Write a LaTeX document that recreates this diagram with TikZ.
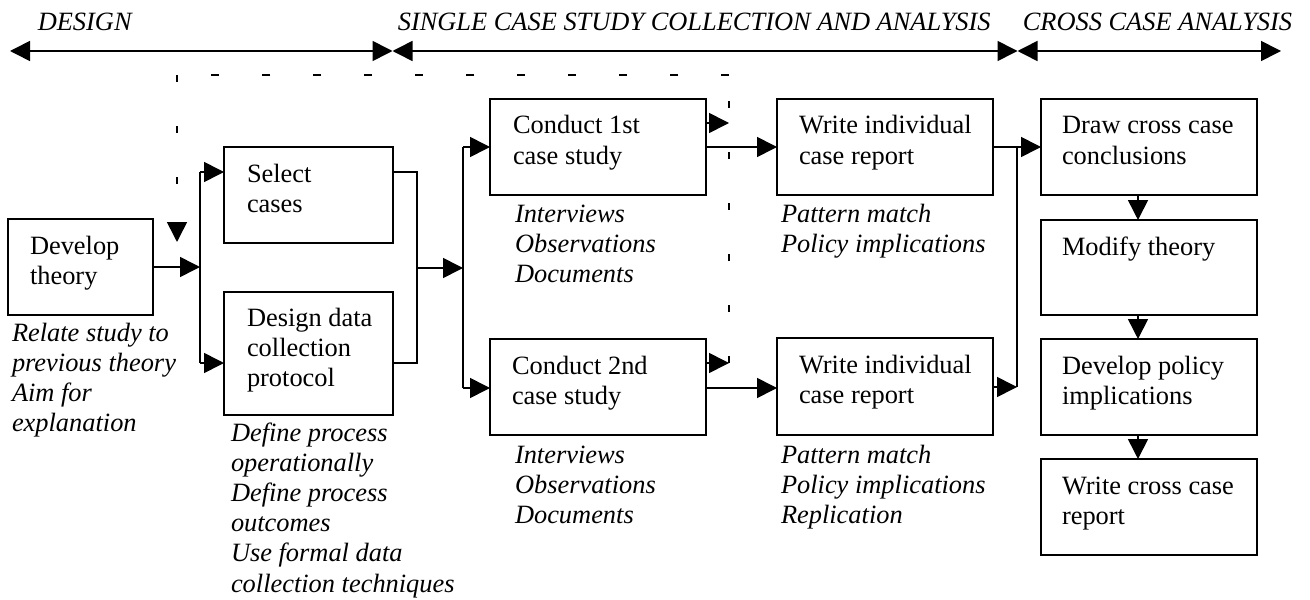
\documentclass[tikz,border=0pt]{standalone}
\usepackage{fontspec}
\setmainfont{Liberation Serif}
\usetikzlibrary{arrows.meta,fit}
\begin{document}
\begin{tikzpicture}[x=0.5pt,y=-0.5pt,line width=0.8pt,
  >={Triangle[length=10pt,width=10pt]},
  box/.style={draw,line width=0.8pt,inner sep=0pt,outer sep=0pt},
  txt/.style={anchor=north west,inner sep=0pt,outer sep=0pt,align=left,
    font=\fontsize{13.2}{15.1}\selectfont,yshift=10.57pt},
  lab/.style={txt,font=\fontsize{13.2}{15.1}\selectfont\itshape},
  head/.style={anchor=base west,inner sep=0pt,font=\fontsize{13.2}{15.1}\selectfont\itshape},
  dsh/.style={dash pattern=on 3.5pt off 22pt},
  dshh/.style={dash pattern=on 4pt off 21.5pt}]
\useasboundingbox (0,0) rectangle (1310,599);

% phase headings
\node[head] (hD) at (37,31) {DESIGN};
\node[head] (hS) at (397,31) {SINGLE CASE STUDY COLLECTION AND ANALYSIS};
\node[head] (hC) at (1022,31) {CROSS CASE ANALYSIS};
\coordinate (p0) at (10,51);
\coordinate (p1) at (392.5,51);
\coordinate (p2) at (1017.5,51);
\coordinate (p3) at (1281,51);
\draw[<->] (p0) -- (p1);
\draw[<->] (p1) -- (p2);
\draw[<->] (p2) -- (p3);

% boxes
\node[box,fit={(8,219) (153,315)}] (dev) {};
\node[box,fit={(224,147) (393,243)}] (sel) {};
\node[box,fit={(224,292) (393,415)}] (des) {};
\node[box,fit={(490,99) (706,195)}] (c1) {};
\node[box,fit={(490,339) (706,435)}] (c2) {};
\node[box,fit={(777,99) (993,195)}] (w1) {};
\node[box,fit={(777,338) (993,435)}] (w2) {};
\node[box,fit={(1041,99) (1257,195)}] (x1) {};
\node[box,fit={(1041,220) (1257,315)}] (x2) {};
\node[box,fit={(1041,339) (1257,435)}] (x3) {};
\node[box,fit={(1041,459) (1257,555)}] (x4) {};

% box texts
\node[txt] (devT) at (30,254) {\strut Develop\\theory};
\node[txt] (selT) at (247,182) {\strut Select\\cases};
\node[txt] (desT) at (247,326) {\strut Design data\\collection\\protocol};
\node[txt] (c1T) at (513,134) {\strut Conduct 1st\\case study};
\node[txt] (c2T) at (512,374) {\strut Conduct 2nd\\case study};
\node[txt] (w1T) at (799,134) {\strut Write individual\\case report};
\node[txt] (w2T) at (799,373) {\strut Write individual\\case report};
\node[txt] (x1T) at (1062,134) {\strut Draw cross case\\conclusions};
\node[txt] (x2T) at (1062,255) {\strut Modify theory};
\node[txt] (x3T) at (1062,374) {\strut Develop policy\\implications};
\node[txt] (x4T) at (1062,494) {\strut Write cross case\\report};

% italic labels
\node[lab] (devL) at (12,341) {\strut Relate study to\\previous theory\\Aim for\\explanation};
\node[lab] (desL) at (231,441) {\strut Define process\\operationally\\Define process\\outcomes\\Use formal data\\collection techniques};
\node[lab] (c1L) at (515,222) {\strut Interviews\\Observations\\Documents};
\node[lab] (w1L) at (781,222) {\strut Pattern match\\Policy implications};
\node[lab] (c2L) at (515,463) {\strut Interviews\\Observations\\Documents};
\node[lab] (w2L) at (781,463) {\strut Pattern match\\Policy implications\\Replication};

% connectors
\coordinate (b1) at (200,267);
\coordinate (b1t) at (200,172);
\coordinate (b1b) at (200,363);
\draw[->] (dev.east |- b1) -- (b1);
\draw (b1t) -- (b1b);
\draw[->] (b1t) -- (sel.west |- b1t);
\draw[->] (b1b) -- (des.west |- b1b);

\coordinate (b2t) at (417,172);
\coordinate (b2b) at (417,363);
\coordinate (b2m) at (417,268);
\draw (sel.east |- b2t) -- (b2t) -- (b2b) -- (des.east |- b2b);

\coordinate (b3m) at (463,268);
\coordinate (b3t) at (463,147);
\coordinate (b3b) at (463,388);
\draw[->] (b2m) -- (b3m);
\draw (b3t) -- (b3b);
\draw[->] (b3t) -- (c1.west |- b3t);
\draw[->] (b3b) -- (c2.west |- b3b);
\draw[->] (c1.east |- b3t) -- (w1.west |- b3t);
\draw[->] (c2.east |- b3b) -- (w2.west |- b3b);

\coordinate (b4t) at (1017,147);
\coordinate (b4b) at (1017,387);
\draw (w1.east |- b4t) -- (b4t) -- (b4b);
\draw[->] (w2.east |- b4b) -- (b4b);
\draw[->] (b4t) -- (x1.west |- b4t);

\coordinate (vx) at (1138,0);
\draw[->] (x1.south -| vx) -- (x2.north -| vx);
\draw[->] (x2.south -| vx) -- (x3.north -| vx);
\draw[->] (x3.south -| vx) -- (x4.north -| vx);

% dashed feedback
\coordinate (dR) at (729,363);
\coordinate (dA) at (729,123);
\coordinate (dRT) at (729,75);
\coordinate (dLT) at (177,75);
\coordinate (dL) at (177,242);
\draw[dsh] (dR) -- (dRT);
\draw[dshh] (dRT) -- (dLT);
\draw[->,dsh] (dLT) -- (dL);
\draw[->] (c1.east |- dA) -- (dA);
\draw[->] (c2.east |- dR) -- (dR);
\end{tikzpicture}
\end{document}
